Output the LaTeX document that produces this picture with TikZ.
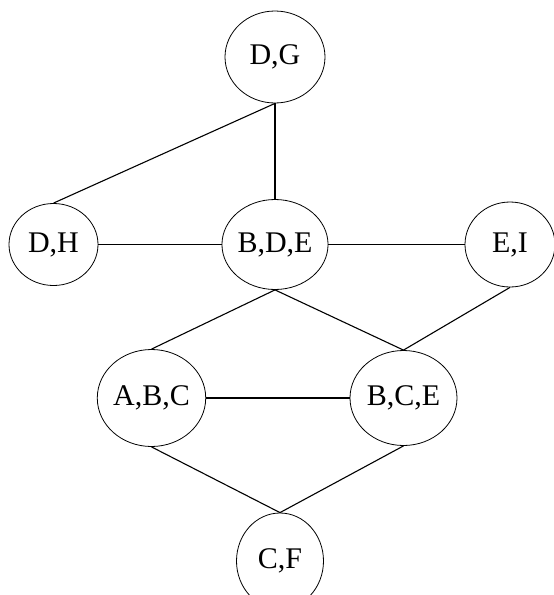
\documentclass[tikz,border=0pt]{standalone}
\usepackage{fontspec}
\setmainfont{Liberation Serif}
\usetikzlibrary{shapes.geometric}
\begin{document}
\begin{tikzpicture}[x=1pt,y=-1pt,
  clique/.style 2 args={draw, ellipse, line width=0.8pt, inner sep=0pt,
    minimum width=#1, minimum height=#2, font=\fontsize{30}{33}\selectfont},
  link/.style={line width=1.1pt}]
\useasboundingbox (0,0) rectangle (554,595);
% cliques of the junction tree
\node[clique={100pt}{92pt}]  (DG)  at (275,57)    {D,G};
\node[clique={89pt}{82pt}]   (DH)  at (53.5,244.5) {D,H};
\node[clique={98pt}{90pt}]   (BDE) at (275,244.5) {B,D,E};
\node[clique={90pt}{85pt}]   (EI)  at (510,244.5) {E,I};
\node[clique={107pt}{97pt}]  (ABC) at (151.5,398) {A,B,C};
\node[clique={107pt}{95pt}]  (BCE) at (403.5,398) {B,C,E};
\node[clique={87pt}{96pt}]   (CF)  at (280,561)   {C,F};
% separators
\draw[link] (DG.south) -- (BDE.north);
\draw[link] (DG.south) -- (DH.north);
\draw[link] (DH) -- (BDE);
\draw[link] (BDE) -- (EI);
\draw[link] (BDE.south) -- (ABC.north);
\draw[link] (BDE.south) -- (BCE.north);
\draw[link] (EI.south) -- (BCE.north);
\draw[link] (ABC) -- (BCE);
\draw[link] (ABC.south) -- (CF.north);
\draw[link] (BCE.south) -- (CF.north);
\end{tikzpicture}
\end{document}
